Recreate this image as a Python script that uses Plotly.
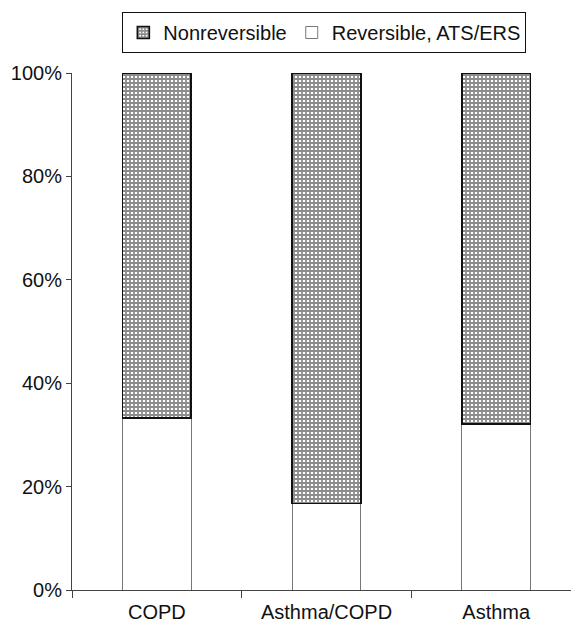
import plotly.graph_objects as go

categories = ["COPD", "Asthma/COPD", "Asthma"]
reversible = [33.3, 16.7, 32.1]
nonreversible = [66.7, 83.3, 67.9]

fig = go.Figure()
fig.add_trace(go.Bar(
    x=categories, y=reversible, name="Reversible, ATS/ERS",
    width=0.405,
    marker=dict(color="white", line=dict(color="#777", width=1)),
))
fig.add_trace(go.Bar(
    x=categories, y=nonreversible, name="Nonreversible",
    width=0.405,
    marker=dict(
        color="white",
        line=dict(color="#111", width=1.6),
        pattern=dict(shape="+", size=4, solidity=0.7, fgcolor="#1a1a1a", bgcolor="white"),
    ),
))

fig.update_layout(
    width=579, height=626,
    barmode="stack",
    plot_bgcolor="white", paper_bgcolor="white",
    margin=dict(l=64, r=0, t=65, b=44),
    font=dict(family="Arial, Liberation Sans, sans-serif", size=20, color="#111"),
    legend=dict(
        orientation="h", x=0.49, xanchor="center", y=1.118, yanchor="top",
        traceorder="reversed", bordercolor="#111", borderwidth=1,
        font=dict(size=20), itemwidth=30, tracegroupgap=0,
    ),
    xaxis=dict(
        showline=True, linecolor="#444", linewidth=1,
        ticks="outside", tickson="boundaries", ticklen=7, tickcolor="#444",
        showgrid=False, range=[-0.5, 2.535], ticklabelstandoff=4,
    ),
    yaxis=dict(
        range=[0, 100], tickvals=[0, 20, 40, 60, 80, 100],
        ticktext=["0%", "20%", "40%", "60%", "80%", "100%"],
        showline=True, linecolor="#444", linewidth=1,
        ticks="outside", ticklen=5, tickcolor="#444",
        showgrid=False, zeroline=False,
    ),
)

fig.write_html("out.html")
